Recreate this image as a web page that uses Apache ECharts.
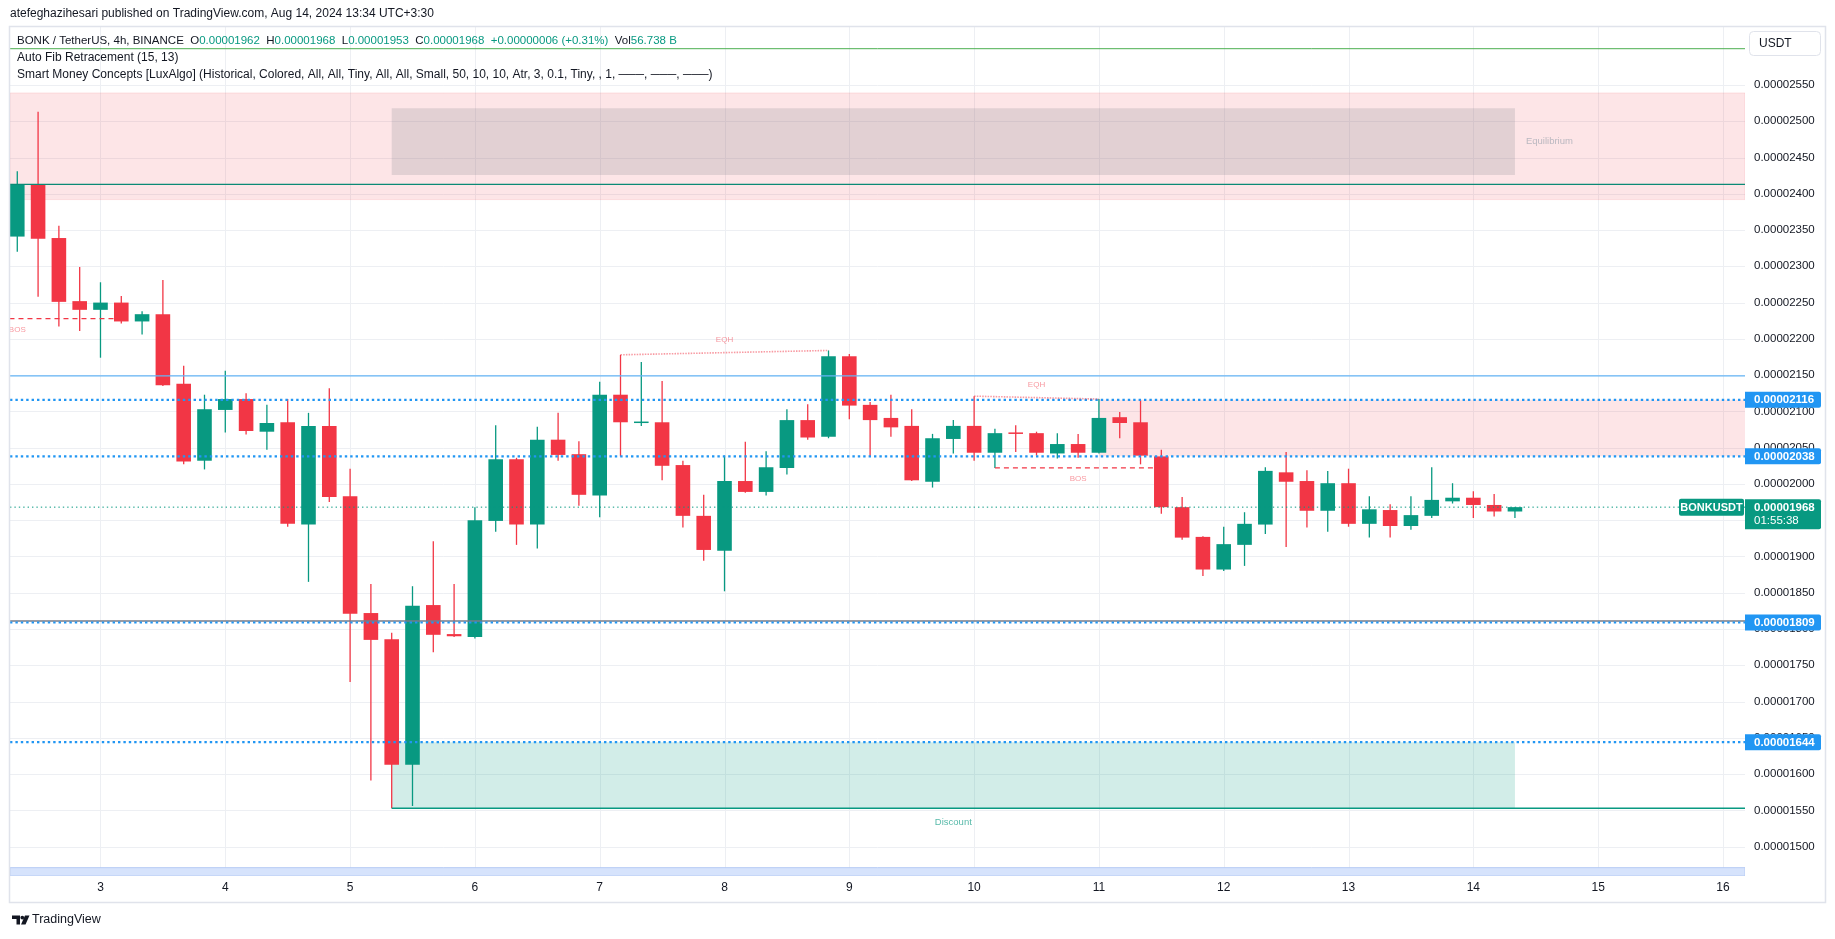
<!DOCTYPE html>
<html>
<head>
<meta charset="utf-8">
<script src="https://cdn.jsdelivr.net/npm/echarts@6/dist/echarts.min.js"></script>
<style>
html,body{margin:0;padding:0;background:#ffffff;}
#c{width:1835px;height:939px;}
</style>
</head>
<body>
<div id="c"></div>
<script>
// ---------------- DATA (BONK/USDT, 4h candles, first candle = Aug 2 08:00) ----------------
const opens = [0.00002341,0.00002413,0.00002339,0.00002252,0.00002240,0.00002250,0.00002224,0.00002234,0.00002138,0.00002032,
  0.00002102,0.00002117,0.00002072,0.00002085,0.00001944,0.00002080,0.00001983,0.00001822,0.00001786,0.00001613,
  0.00001833,0.00001793,0.00001789,0.00001949,0.00002034,0.00001944,0.00002061,0.00002041,0.00001984,0.00002123,
  0.00002084,0.00002085,0.00002026,0.00001956,0.00001908,0.00002004,0.00001989,0.00002022,0.00002088,0.00002065,
  0.00002176,0.00002109,0.00002091,0.00002080,0.00002003,0.00002062,0.00002080,0.00002043,0.00002071,0.00002070,
  0.00002042,0.00002055,0.00002043,0.00002092,0.00002085,0.00002038,0.00001968,0.00001927,0.00001882,0.00001916,
  0.00001944,0.00002016,0.00002004,0.00001963,0.00002001,0.00001945,0.00001964,0.00001942,0.00001956,0.00001976,
  0.00001981,0.00001971,0.00001962];
const highs = [0.00002431,0.00002513,0.00002356,0.00002299,0.00002278,0.00002259,0.00002238,0.00002281,0.00002163,0.00002123,
  0.00002156,0.00002125,0.00002109,0.00002117,0.00002098,0.00002132,0.00002021,0.00001862,0.00001795,0.00001859,
  0.00001921,0.00001862,0.00001968,0.00002081,0.00002036,0.00002079,0.00002098,0.00002059,0.00002141,0.00002178,
  0.00002168,0.00002142,0.00002032,0.00001985,0.00002039,0.00002058,0.00002045,0.00002103,0.00002110,0.00002184,
  0.00002179,0.00002113,0.00002123,0.00002103,0.00002069,0.00002088,0.00002121,0.00002076,0.00002081,0.00002072,
  0.00002070,0.00002069,0.00002117,0.00002099,0.00002116,0.00002047,0.00001982,0.00001928,0.00001941,0.00001961,
  0.00002023,0.00002044,0.00002019,0.00002018,0.00002021,0.00001983,0.00001972,0.00001983,0.00002023,0.00002001,
  0.00001990,0.00001986,0.00001968];
const lows = [0.00002320,0.00002258,0.00002217,0.00002211,0.00002174,0.00002221,0.00002206,0.00002135,0.00002027,0.00002020,
  0.00002071,0.00002068,0.00002047,0.00001941,0.00001865,0.00001975,0.00001727,0.00001591,0.00001553,0.00001556,
  0.00001768,0.00001789,0.00001787,0.00001934,0.00001916,0.00001911,0.00002032,0.00001970,0.00001954,0.00002038,
  0.00002080,0.00002005,0.00001940,0.00001894,0.00001852,0.00001988,0.00001984,0.00002013,0.00002061,0.00002063,
  0.00002089,0.00002038,0.00002065,0.00002004,0.00001995,0.00002042,0.00002032,0.00002022,0.00002044,0.00002039,
  0.00002035,0.00002036,0.00002042,0.00002063,0.00002027,0.00001959,0.00001923,0.00001873,0.00001880,0.00001887,
  0.00001931,0.00001913,0.00001940,0.00001934,0.00001941,0.00001926,0.00001926,0.00001937,0.00001953,0.00001973,
  0.00001953,0.00001955,0.00001953];
const closes = [0.00002413,0.00002338,0.00002251,0.00002240,0.00002250,0.00002224,0.00002234,0.00002136,0.00002031,0.00002103,
  0.00002117,0.00002073,0.00002084,0.00001945,0.00002080,0.00001982,0.00001821,0.00001785,0.00001613,0.00001832,
  0.00001792,0.00001790,0.00001950,0.00002034,0.00001944,0.00002061,0.00002040,0.00001985,0.00002123,0.00002085,
  0.00002086,0.00002025,0.00001956,0.00001909,0.00002004,0.00001989,0.00002023,0.00002088,0.00002064,0.00002176,
  0.00002108,0.00002088,0.00002078,0.00002005,0.00002063,0.00002080,0.00002043,0.00002070,0.00002069,0.00002043,
  0.00002055,0.00002043,0.00002091,0.00002084,0.00002039,0.00001968,0.00001926,0.00001882,0.00001917,0.00001945,
  0.00002018,0.00002003,0.00001963,0.00002001,0.00001945,0.00001965,0.00001942,0.00001957,0.00001978,0.00001981,
  0.00001971,0.00001962,0.00001968];
const lastVolume = '56.738 B';
const countdown = '01:55:38';

// time axis: day labels and the candle index where each day starts
const dayLabels  = ['3','4','5','6','7','8','9','10','11','12','13','14','15','16'];
const dayTickIdx = [4,10,16,22,28,34,40,46,52,58,64,70,76,82];

// price axis tick labels
const yTicks = [0.000015,0.0000155,0.000016,0.0000165,0.000017,0.0000175,0.000018,0.0000185,0.000019,0.0000195,
  0.00002,0.0000205,0.000021,0.0000215,0.000022,0.0000225,0.000023,0.0000235,0.000024,0.0000245,0.000025,0.0000255];

// indicator levels
const blueLevels   = [0.00002116, 0.00002038, 0.00001809, 0.00001644];
const fibTopLevel  = 0.000026;
const rangeHigh    = 0.00002413;
const midBlueLevel = 0.00002149;
const grayLevel    = 0.00001811;
const discountLow  = 0.00001553;

// zones [x1, priceTop, x2, priceBottom]
const equilibriumZone = [18, 0.00002518, 72, 0.00002426];
const discountZone    = [18, 0.00001644, 72, 0.00001553];
const premiumZone     = [0.00002539, 0.00002392];
const supplyZone      = [52, 0.00002116, 0.00002038];

// market structure [x1, p1, x2, p2]
const eqhLines = [[29, 0.00002178, 39, 0.00002184], [46, 0.00002121, 52, 0.00002117]];
const bosLines = [[-6, 0.00002228, 5, 0.00002228], [47, 0.00002022, 55, 0.00002022]];
const bosLabelX = [0, 51];

// ---------------- CHART ----------------
const xMin = -0.35, xMax = 83.06;
const yMin = 0.000014595, yMax = 0.000026313;
const FONT = '"Liberation Sans", Arial, sans-serif';
const UP = '#089981', DOWN = '#f23645';

const chart = echarts.init(document.getElementById('c'), null, {width: 1835, height: 939});

const candles = opens.map((o, i) => [i, o, closes[i], lows[i], highs[i]]);

function hLine(x1, y1, x2, y2, style, z) {
  return {type: 'line', data: [[x1, y1], [x2, y2]], symbol: 'none', silent: true, z: z || 4,
          lineStyle: style, emphasis: {disabled: true}};
}
function rectSeries(rects, fill, stroke, z) {
  return {
    type: 'custom', silent: true, z: z, clip: true,
    data: rects, encode: {x: [0, 2], y: [1, 3]},
    renderItem(params, api) {
      const p1 = api.coord([api.value(0), api.value(1)]);
      const p2 = api.coord([api.value(2), api.value(3)]);
      return {type: 'rect', shape: {x: p1[0], y: p1[1], width: p2[0] - p1[0], height: p2[1] - p1[1]},
              style: {fill: fill, stroke: stroke || null, lineWidth: 1}};
    }
  };
}

const series = [];
// grid lines
series.push({
  type: 'custom', silent: true, z: 0,
  data: yTicks.map(v => [xMin, v]), encode: {x: 0, y: 1},
  renderItem(params, api) {
    const cs = params.coordSys;
    const y = Math.round(api.coord([xMin, api.value(1)])[1]) + 0.5;
    return {type: 'line', shape: {x1: cs.x, y1: y, x2: cs.x + cs.width, y2: y}, style: {stroke: '#edeff3', lineWidth: 1}};
  }
});
series.push({
  type: 'custom', silent: true, z: 0,
  data: dayTickIdx.map(d => [d, yMin]), encode: {x: 0, y: 1},
  renderItem(params, api) {
    const cs = params.coordSys;
    const x = Math.round(api.coord([api.value(0), yMin])[0]) + 0.5;
    return {type: 'line', shape: {x1: x, y1: cs.y, x2: x, y2: cs.y + cs.height}, style: {stroke: '#edeff3', lineWidth: 1}};
  }
});
// zones
series.push(rectSeries([[xMin, premiumZone[0], xMax, premiumZone[1]]], 'rgba(242,54,69,0.13)', 'rgba(242,54,69,0.12)', 1));
series.push(rectSeries([equilibriumZone], 'rgba(120,123,134,0.2)', null, 1));
series.push(rectSeries([[supplyZone[0], supplyZone[1], xMax, supplyZone[2]]], 'rgba(242,54,69,0.13)', null, 1));
series.push(rectSeries([discountZone], 'rgba(8,153,129,0.18)', null, 1));
series.push(rectSeries([[xMin, 0.00001471, xMax, yMin]], '#d6e3fc', '#b6cbf5', 1));

// candles
series.push({
  type: 'custom', z: 3, silent: true, clip: true,
  data: candles, encode: {x: 0, y: [1, 2, 3, 4]},
  renderItem(params, api) {
    const x = api.value(0), o = api.value(1), c = api.value(2), l = api.value(3), h = api.value(4);
    const pO = api.coord([x, o]), pC = api.coord([x, c]);
    const pL = api.coord([x, l]), pH = api.coord([x, h]);
    const color = c >= o ? UP : DOWN;
    const bw = 14.6;
    const top = Math.min(pO[1], pC[1]), bot = Math.max(pO[1], pC[1]);
    const cx = pO[0];
    return {type: 'group', children: [
      {type: 'line', shape: {x1: cx, y1: pH[1], x2: cx, y2: pL[1]}, style: {stroke: color, lineWidth: 1.3}},
      {type: 'rect', shape: {x: cx - bw / 2, y: top, width: bw, height: Math.max(bot - top, 1.5)}, style: {fill: color}}
    ]};
  }
});

// levels
series.push(hLine(xMin, fibTopLevel, xMax, fibTopLevel, {color: '#4caf50', width: 1}));
series.push(hLine(xMin, rangeHigh, xMax, rangeHigh, {color: '#0b8a76', width: 1.3}));
series.push(hLine(xMin, midBlueLevel, xMax, midBlueLevel, {color: '#64b5f6', width: 1.4}));
series.push(hLine(xMin, grayLevel, xMax, grayLevel, {color: '#787b86', width: 1.4}));
series.push(hLine(discountZone[0], discountLow, xMax, discountLow, {color: '#089981', width: 1.4}));
blueLevels.forEach(v => series.push(hLine(xMin, v, xMax, v, {color: '#2196f3', width: 2.2, type: [2.4, 3]}, 5)));
series.push(hLine(xMin, closes[closes.length - 1], xMax, closes[closes.length - 1], {color: '#089981', width: 1, type: [1.4, 3]}, 5));
eqhLines.forEach(s => series.push(hLine(s[0], s[1], s[2], s[3], {color: 'rgba(242,54,69,0.5)', width: 1.6, type: [1.5, 1.2]}, 5)));
bosLines.forEach(s => series.push(hLine(s[0], s[1], s[2], s[3], {color: '#f23645', width: 1.3, type: [5, 4]}, 5)));

// text labels on the chart
const smallLbl = {show: true, formatter: '{b}', fontFamily: FONT, fontSize: 8, color: 'rgba(242,54,69,0.65)'};
const labelData = [];
eqhLines.forEach(s => labelData.push({name: 'EQH', value: [(s[0] + s[2]) / 2, (s[1] + s[3]) / 2],
  label: Object.assign({}, smallLbl, {position: 'top', distance: 9})}));
bosLines.forEach((s, k) => labelData.push({name: 'BOS', value: [bosLabelX[k], s[1]],
  label: Object.assign({}, smallLbl, {position: 'bottom', distance: 7})}));
labelData.push({name: 'Equilibrium', value: [equilibriumZone[2], (equilibriumZone[1] + equilibriumZone[3]) / 2],
  label: {show: true, formatter: '{b}', position: 'right', distance: 11, fontFamily: FONT, fontSize: 9.5, color: '#a9acb6'}});
labelData.push({name: 'Discount', value: [(discountZone[0] + discountZone[2]) / 2, discountZone[3]],
  label: {show: true, formatter: '{b}', position: 'bottom', distance: 9, fontFamily: FONT, fontSize: 9.5, color: 'rgba(8,153,129,0.85)'}});
series.push({type: 'scatter', symbolSize: 0, silent: true, z: 6, data: labelData, clip: false});

chart.setOption({
  animation: false,
  backgroundColor: '#ffffff',
  grid: {left: 10, right: 90, top: 26, bottom: 63, containLabel: false, outerBoundsMode: 'none'},
  xAxis: {
    type: 'value', min: xMin, max: xMax,
    axisLine: {show: false}, axisTick: {show: false}, splitLine: {show: false},
    axisLabel: {customValues: dayTickIdx, margin: 6, fontFamily: FONT, fontSize: 12, color: '#131722',
      formatter: v => { const k = dayTickIdx.indexOf(Math.round(v)); return k >= 0 ? dayLabels[k] : ''; }}
  },
  yAxis: {
    type: 'value', position: 'right', min: yMin, max: yMax, scale: true,
    axisLine: {show: false}, axisTick: {show: false}, splitLine: {show: false},
    axisLabel: {customValues: yTicks, margin: 9, fontFamily: FONT, fontSize: 11.5, color: '#131722',
      formatter: v => v.toFixed(8)}
  },
  series: series
});

// ---------------- overlays (texts, price tags) ----------------
const n = closes.length - 1;
const chg = closes[n] - closes[n - 1];
const f8 = v => v.toFixed(8);
const HF = '11.5px ' + FONT;
const headerText =
  '{d|BONK / TetherUS, 4h, BINANCE}  {d|O}{g|' + f8(opens[n]) + '}  {d|H}{g|' + f8(highs[n]) +
  '}  {d|L}{g|' + f8(lows[n]) + '}  {d|C}{g|' + f8(closes[n]) + '}  {g|' + (chg >= 0 ? '+' : '') + f8(chg) +
  ' (' + (chg >= 0 ? '+' : '') + (chg / closes[n - 1] * 100).toFixed(2) + '%)}  {d|Vol}{g|' + lastVolume + '}';

const yPix = v => chart.convertToPixel({yAxisIndex: 0}, v);
const axisX = 1745;
const g = [];
// frame
g.push({type: 'rect', z: 50, silent: true, shape: {x: 9.5, y: 26.5, width: 1816, height: 876},
  style: {fill: 'none', stroke: '#e0e3eb', lineWidth: 1.5}});
// title & legends
g.push({type: 'text', z: 60, style: {x: 10, y: 14, text: 'atefeghazihesari published on TradingView.com, Aug 14, 2024 13:34 UTC+3:30',
  font: '12px ' + FONT, fill: '#131722', verticalAlign: 'middle'}});
g.push({type: 'text', z: 60, style: {x: 17, y: 41, text: headerText, verticalAlign: 'middle', font: HF,
  rich: {d: {fill: '#131722', font: HF}, g: {fill: '#089981', font: HF}}}});
g.push({type: 'text', z: 60, style: {x: 17, y: 57.5, text: 'Auto Fib Retracement (15, 13)', font: '12px ' + FONT, fill: '#131722', verticalAlign: 'middle'}});
g.push({type: 'text', z: 60, style: {x: 17, y: 75, text: 'Smart Money Concepts [LuxAlgo] (Historical, Colored, All, All, Tiny, All, All, Small, 50, 10, 10, Atr, 3, 0.1, Tiny, , 1, \u2500\u2500\u2500, \u2500\u2500\u2500, \u2500\u2500\u2500)',
  font: '12px ' + FONT, fill: '#131722', verticalAlign: 'middle'}});
// USDT box
g.push({type: 'rect', z: 60, shape: {x: 1749.5, y: 31.5, width: 71, height: 24, r: 4}, style: {fill: '#fff', stroke: '#e0e3eb', lineWidth: 1}});
g.push({type: 'text', z: 61, style: {x: 1759, y: 44, text: 'USDT', font: '12px ' + FONT, fill: '#131722', verticalAlign: 'middle'}});
// blue price tags
blueLevels.forEach(v => {
  const y = yPix(v);
  g.push({type: 'rect', z: 60, shape: {x: axisX, y: y - 8, width: 76, height: 16, r: [0, 2, 2, 0]}, style: {fill: '#2196f3'}});
  g.push({type: 'text', z: 61, style: {x: 1754, y: y + 0.5, text: f8(v), font: 'bold 11.5px ' + FONT, fill: '#ffffff', verticalAlign: 'middle'}});
});
// current price tag
const yc = yPix(closes[n]);
g.push({type: 'rect', z: 60, shape: {x: axisX, y: yc - 8, width: 76, height: 30, r: [0, 2, 2, 0]}, style: {fill: '#089981'}});
g.push({type: 'text', z: 61, style: {x: 1754, y: yc + 0.5, text: f8(closes[n]), font: 'bold 11.5px ' + FONT, fill: '#ffffff', verticalAlign: 'middle'}});
g.push({type: 'text', z: 61, style: {x: 1754, y: yc + 14, text: countdown, font: '11.5px ' + FONT, fill: '#ffffff', verticalAlign: 'middle'}});
g.push({type: 'rect', z: 60, shape: {x: 1679, y: yc - 8.5, width: 65, height: 17, r: 2}, style: {fill: '#089981'}});
g.push({type: 'text', z: 61, style: {x: 1711.5, y: yc + 0.5, text: 'BONKUSDT', font: 'bold 11px ' + FONT, fill: '#ffffff', align: 'center', verticalAlign: 'middle'}});
// TradingView logo
g.push({type: 'polygon', z: 60, shape: {points: [[12, 915.5], [20, 915.5], [20, 924.5], [16.5, 924.5], [16.5, 919], [12, 919]]}, style: {fill: '#131722'}});
g.push({type: 'circle', z: 60, shape: {cx: 22.3, cy: 917.6, r: 1.9}, style: {fill: '#131722'}});
g.push({type: 'polygon', z: 60, shape: {points: [[25, 915.5], [29.5, 915.5], [25.5, 924.5], [21, 924.5]]}, style: {fill: '#131722'}});
g.push({type: 'text', z: 60, style: {x: 32, y: 920, text: 'TradingView', font: '12.5px ' + FONT, fill: '#131722', verticalAlign: 'middle'}});

chart.setOption({graphic: g});
</script>
</body>
</html>
